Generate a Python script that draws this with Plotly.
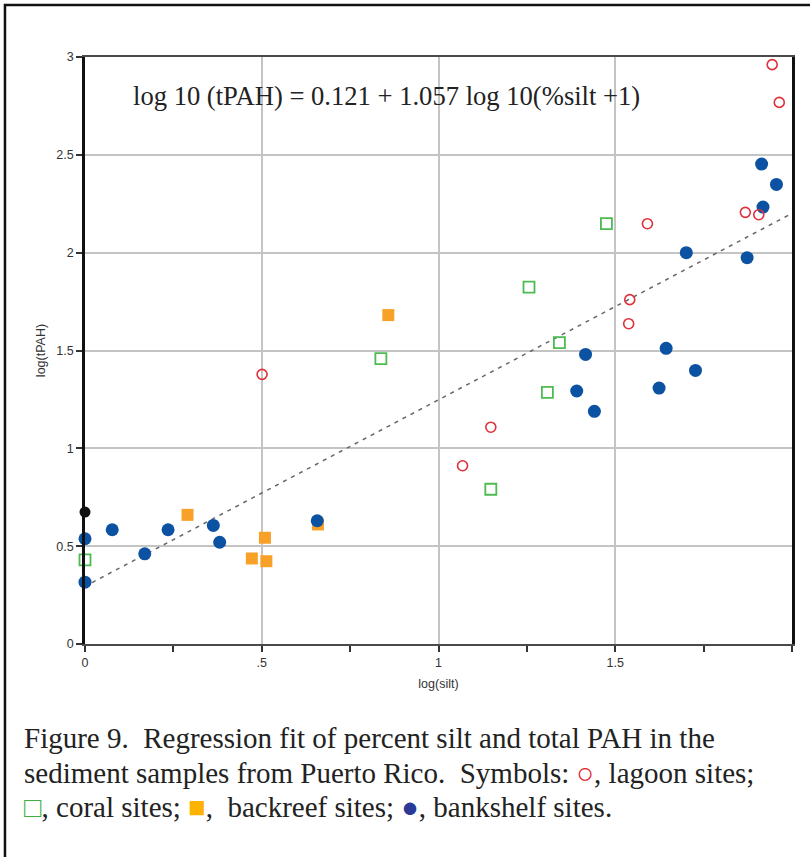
import plotly.graph_objects as go

# ---- data ----
lagoon_x = [0.501, 1.068, 1.148, 1.538, 1.541, 1.591, 1.868, 1.906, 1.944, 1.964]
lagoon_y = [1.378, 0.911, 1.108, 1.637, 1.760, 2.148, 2.206, 2.194, 2.961, 2.768]

coral_x = [0.0, 0.837, 1.148, 1.256, 1.308, 1.342, 1.475]
coral_y = [0.430, 1.458, 0.791, 1.824, 1.286, 1.540, 2.148]

backreef_x = [0.290, 0.472, 0.509, 0.513, 0.659, 0.858]
backreef_y = [0.660, 0.437, 0.543, 0.423, 0.611, 1.681]

bankshelf_x = [0.0, 0.0, 0.077, 0.169, 0.235, 0.363, 0.381, 0.657,
               1.391, 1.416, 1.441, 1.624, 1.644, 1.701, 1.727, 1.873, 1.914, 1.918, 1.956]
bankshelf_y = [0.538, 0.316, 0.584, 0.461, 0.584, 0.606, 0.520, 0.630,
               1.293, 1.480, 1.189, 1.308, 1.511, 2.000, 1.398, 1.974, 2.453, 2.233, 2.349]

other_x = [0.0]
other_y = [0.674]

fit_intercept = 0.295
fit_slope = 0.953
fit_x = [0.02, 2.0]
fit_y = [fit_intercept + fit_slope * v for v in fit_x]

x_tickvals = [0, 0.5, 1, 1.5]
x_ticktext = ["0", ".5", "1", "1.5"]
y_tickvals = [0, 0.5, 1, 1.5, 2, 2.5, 3]
y_ticktext = ["0", "0.5", "1", "1.5", "2", "2.5", "3"]

equation = "log 10 (tPAH) = 0.121 + 1.057 log 10(%silt +1)"
caption_lines = [
    "Figure 9.  Regression fit of percent silt and total PAH in the",
    "sediment samples from Puerto Rico.  Symbols: "
    "<span style='color:#E0202A'>○</span>, lagoon sites;",
    "<span style='color:#3CB043'>□</span>, coral sites; "
    "<span style='color:#FFB300'>■</span>,  backreef sites; "
    "<span style='color:#2B3A97'>●</span>, bankshelf sites.",
]

fig = go.Figure()

fig.add_trace(go.Scatter(x=fit_x, y=fit_y, mode="lines",
                         line=dict(color="#666666", width=1.5, dash="4px,5px"),
                         hoverinfo="skip", showlegend=False))

fig.add_trace(go.Scatter(x=coral_x, y=coral_y, mode="markers", name="coral",
                         marker=dict(symbol="square-open", size=11, color="#4CBB50",
                                     line=dict(width=1.8, color="#4CBB50")),
                         cliponaxis=False, showlegend=False))
fig.add_trace(go.Scatter(x=backreef_x, y=backreef_y, mode="markers", name="backreef",
                         marker=dict(symbol="square", size=12, color="#F7A128",
                                     line=dict(width=0)),
                         cliponaxis=False, showlegend=False))
fig.add_trace(go.Scatter(x=bankshelf_x, y=bankshelf_y, mode="markers", name="bankshelf",
                         marker=dict(symbol="circle", size=13, color="#0B52A3",
                                     line=dict(width=0)),
                         cliponaxis=False, showlegend=False))
fig.add_trace(go.Scatter(x=other_x, y=other_y, mode="markers", name="other",
                         marker=dict(symbol="circle", size=11, color="#111111",
                                     line=dict(width=0)),
                         cliponaxis=False, showlegend=False))
fig.add_trace(go.Scatter(x=lagoon_x, y=lagoon_y, mode="markers", name="lagoon",
                         marker=dict(symbol="circle-open", size=10, color="#E0303A",
                                     line=dict(width=1.6, color="#E0303A")),
                         cliponaxis=False, showlegend=False))

axis_font = dict(family="Liberation Sans, Arial, sans-serif", size=12.5, color="#333333")

fig.update_xaxes(range=[0, 2.0], tickvals=x_tickvals, ticktext=x_ticktext,
                 showgrid=True, gridcolor="#C4C4C4", gridwidth=1.5,
                 zeroline=False, showline=True, linecolor="#4A4A4A", linewidth=2,
                 mirror=True, ticks="outside", ticklen=6, tickwidth=1.5, tickcolor="#333333",
                 minor=dict(dtick=0.25, tick0=0, ticks="outside", ticklen=6,
                            tickwidth=1.5, tickcolor="#333333", showgrid=False),
                 tickfont=axis_font,
                 title=dict(text="log(silt)", font=axis_font, standoff=10))
fig.update_yaxes(range=[0, 3], tickvals=y_tickvals, ticktext=y_ticktext,
                 showgrid=True, gridcolor="#C4C4C4", gridwidth=1.5,
                 zeroline=False, showline=True, linecolor="#111111", linewidth=2.5,
                 mirror=True, ticks="outside", ticklen=6, tickwidth=1.5, tickcolor="#333333",
                 tickfont=axis_font,
                 title=dict(text="log(tPAH)", font=axis_font, standoff=8))

fig.add_annotation(x=0.131, y=2.80, xref="x", yref="y", text=equation,
                   showarrow=False, xanchor="left", yanchor="middle",
                   font=dict(family="Liberation Serif, Times New Roman, serif",
                             size=26.6, color="#222222"))

# caption lines, pixel centres 738, 773, 807 -> paper coords
plot_bottom_px, plot_h = 644, 587
for line_text, cy in zip(caption_lines, [738, 773, 807]):
    fig.add_annotation(x=-0.0891, y=(plot_bottom_px - cy) / plot_h,
                       xref="paper", yref="paper", text=line_text,
                       showarrow=False, xanchor="left", yanchor="middle", align="left",
                       font=dict(family="Liberation Serif, Times New Roman, serif",
                                 size=29, color="#222222"))

fig.add_shape(type="rect", xref="paper", yref="paper",
              x0=-0.1132, x1=1.2, y0=-0.6, y1=1.0886,
              line=dict(color="#111111", width=2.5), fillcolor="rgba(0,0,0,0)", layer="above")

fig.update_layout(width=810, height=857,
                  margin=dict(l=85, r=18, t=57, b=213),
                  paper_bgcolor="white", plot_bgcolor="white",
                  showlegend=False)

fig.write_html("out.html")
